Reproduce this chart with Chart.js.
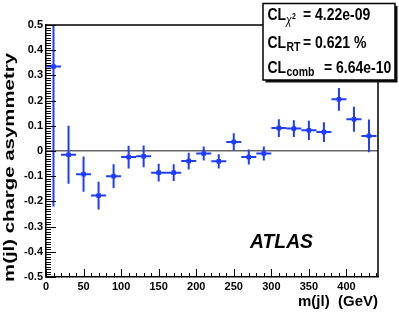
<!DOCTYPE html>
<html>
<head>
<meta charset="utf-8">
<script src="https://cdn.jsdelivr.net/npm/chart.js@4/dist/chart.umd.min.js"></script>
<style>
  html, body { margin: 0; padding: 0; background: #fff; }
</style>
</head>
<body>
<canvas id="c" width="399" height="313"></canvas>
<script>
// bin centres of m(jl) in GeV, and the measured charge asymmetry per bin
const massBins = [10, 30, 50, 70, 90, 110, 130, 150, 170, 190, 210, 230, 250, 270, 290, 310, 330, 350, 370, 390, 410, 430];
const asymmetry = [0.335, -0.015, -0.092, -0.177, -0.100, -0.024, -0.021, -0.086, -0.086, -0.040, -0.010,
                   -0.041, 0.036, -0.024, -0.010, 0.091, 0.089, 0.082, 0.075, 0.205, 0.126, 0.060];
const asymmetryErr = [0.555, 0.115, 0.070, 0.055, 0.047, 0.045, 0.043, 0.035, 0.033, 0.033, 0.028,
                      0.028, 0.034, 0.030, 0.028, 0.035, 0.033, 0.038, 0.039, 0.045, 0.050, 0.065];
const binHalfWidth = 10;

const xTicks = [0, 50, 100, 150, 200, 250, 300, 350, 400];
const yTicks = [-0.5, -0.4, -0.3, -0.2, -0.1, 0, 0.1, 0.2, 0.3, 0.4, 0.5];

const legendLines = [
  { sub: 'χ', sup: '2', text: '= 4.22e-09' },
  { sub: 'RT', text: '= 0.621 %' },
  { sub: 'comb', text: '= 6.64e-10' }
];

const BLUE = '#1f3dff';
const FONT = "'Liberation Sans', Arial, Helvetica, sans-serif";

// draw a string stretched so it fills a given width/height
function stretchText(ctx, str, x, y, font, sx, sy) {
  ctx.save();
  ctx.font = font;
  ctx.translate(x, y);
  ctx.scale(sx, sy);
  ctx.fillText(str, 0, 0);
  ctx.restore();
}

const rootStyle = {
  id: 'rootStyle',
  beforeDatasetsDraw(chart) {
    const { ctx, chartArea: a, scales: { x, y } } = chart;
    ctx.save();
    ctx.beginPath();
    ctx.rect(a.left, a.top, a.width, a.height);
    ctx.clip();
    ctx.strokeStyle = BLUE;
    ctx.lineWidth = 2;
    massBins.forEach((m, i) => {
      const px = x.getPixelForValue(m);
      const py = y.getPixelForValue(asymmetry[i]);
      ctx.beginPath();
      ctx.moveTo(x.getPixelForValue(m - binHalfWidth), py);
      ctx.lineTo(x.getPixelForValue(m + binHalfWidth), py);
      ctx.moveTo(px, y.getPixelForValue(asymmetry[i] - asymmetryErr[i]));
      ctx.lineTo(px, y.getPixelForValue(asymmetry[i] + asymmetryErr[i]));
      ctx.stroke();
    });
    ctx.restore();
  },
  afterDraw(chart) {
    const { ctx, chartArea: a, scales: { x, y } } = chart;
    ctx.save();

    // inner tick marks, root style
    ctx.strokeStyle = '#000';
    ctx.lineWidth = 1;
    ctx.beginPath();
    for (let k = -50; k <= 50; k++) {
      const py = Math.round(y.getPixelForValue(k / 100)) + 0.5;
      const len = k % 10 === 0 ? 10 : 5;
      ctx.moveTo(a.left, py);
      ctx.lineTo(a.left + len, py);
    }
    for (let v = 0; v <= x.max; v += 10) {
      const px = Math.round(x.getPixelForValue(v)) + 0.5;
      const len = v % 50 === 0 ? 8 : 4;
      ctx.moveTo(px, a.bottom);
      ctx.lineTo(px, a.bottom - len);
    }
    ctx.stroke();

    // top and right side of the frame
    ctx.lineWidth = 1.5;
    ctx.beginPath();
    ctx.moveTo(a.left, a.top);
    ctx.lineTo(a.right, a.top);
    ctx.lineTo(a.right, a.bottom);
    ctx.stroke();

    ctx.fillStyle = '#000';

    // y title, stretched along its length
    ctx.save();
    ctx.font = 'bold 14px ' + FONT;
    ctx.translate(10.5, 167.5);
    ctx.rotate(-Math.PI / 2);
    const yTitle = 'm(jl) charge asymmetry';
    const wY = ctx.measureText(yTitle).width;
    ctx.scale(229 / wY, 1);
    ctx.textAlign = 'center';
    ctx.textBaseline = 'middle';
    ctx.fillText(yTitle, 0, 0);
    ctx.restore();

    // x title
    ctx.font = 'bold 15px ' + FONT;
    ctx.textAlign = 'right';
    ctx.textBaseline = 'alphabetic';
    ctx.fillText('m(jl)  (GeV)', 378, 306);

    // ATLAS label
    ctx.textAlign = 'left';
    ctx.font = 'italic bold 21px ' + FONT;
    const wA = ctx.measureText('ATLAS').width;
    stretchText(ctx, 'ATLAS', 250, 248, 'italic bold 21px ' + FONT, 63 / wA, 1);

    // confidence level box
    const bx = 263, by = 3.5, bw = 132, bh = 76.5;
    ctx.fillStyle = '#111';
    ctx.fillRect(bx + 2.5, by + 2.5, bw, bh);
    ctx.fillStyle = '#fff';
    ctx.fillRect(bx, by, bw, bh);
    ctx.strokeStyle = '#000';
    ctx.lineWidth = 1.5;
    ctx.strokeRect(bx, by, bw, bh);

    ctx.fillStyle = '#000';
    const baselines = [19.5, 48, 72.5];
    const eqX = [303, 303, 324];
    legendLines.forEach((ln, i) => {
      const b = baselines[i];
      stretchText(ctx, 'CL', 267.5, b, 'bold 14px ' + FONT, 1, 1.2);
      if (ln.sup) {
        stretchText(ctx, ln.sub, 286, b + 4, 'italic 10px ' + FONT, 1, 1.2);
        stretchText(ctx, ln.sup, 292, b - 1, 'bold 7px ' + FONT, 1, 1.2);
      } else {
        stretchText(ctx, ln.sub, 286.5, b + 3, 'bold 10.5px ' + FONT, 1, 1.2);
      }
      stretchText(ctx, ln.text, eqX[i], b, 'bold 14px ' + FONT, 1, 1.2);
    });

    ctx.restore();
  }
};

new Chart(document.getElementById('c'), {
  type: 'scatter',
  data: {
    datasets: [{
      data: massBins.map((m, i) => ({ x: m, y: asymmetry[i] })),
      pointStyle: 'rect',
      pointRadius: 3.2,
      pointHoverRadius: 3.2,
      backgroundColor: BLUE,
      borderWidth: 0
    }]
  },
  options: {
    responsive: false,
    animation: false,
    devicePixelRatio: 1,
    layout: { padding: { top: 25, right: 21, left: 0, bottom: 0 } },
    plugins: {
      legend: { display: false },
      tooltip: { enabled: false }
    },
    scales: {
      x: {
        type: 'linear',
        min: 0,
        max: 442,
        afterBuildTicks: s => { s.ticks = xTicks.map(v => ({ value: v })); },
        afterFit: s => { s.height = 36; },
        grid: { display: false, drawTicks: false },
        border: { display: true, color: '#000', width: 1.5 },
        ticks: {
          padding: 3,
          color: '#000',
          maxRotation: 0,
          font: { family: FONT, size: 11, weight: 'bold' }
        }
      },
      y: {
        min: -0.5,
        max: 0.5,
        afterBuildTicks: s => { s.ticks = yTicks.map(v => ({ value: v })); },
        afterFit: s => { s.width = 46; },
        grid: {
          drawTicks: false,
          lineWidth: 1.5,
          color: c => (c.tick && c.tick.value === 0 ? '#666' : 'rgba(0,0,0,0)')
        },
        border: { display: true, color: '#000', width: 1.5 },
        ticks: {
          padding: 3,
          color: '#000',
          font: { family: FONT, size: 11, weight: 'bold' },
          callback: v => String(Math.round(v * 10) / 10)
        }
      }
    }
  },
  plugins: [rootStyle]
});
</script>
</body>
</html>
